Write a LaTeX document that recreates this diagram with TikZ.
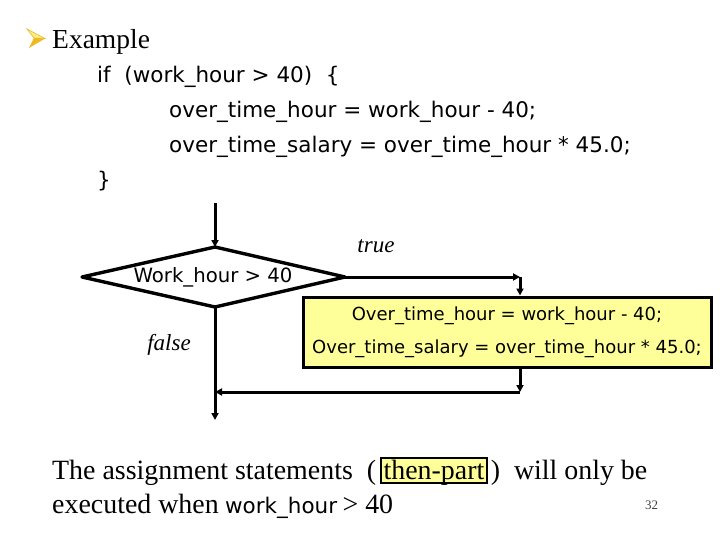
\documentclass[tikz,border=0pt]{standalone}
\usepackage{fontspec}
\setmainfont{Liberation Serif}
\newfontfamily\tah{DejaVu Sans}
\usetikzlibrary{arrows.meta}
\definecolor{boxyellow}{RGB}{255,255,153}
\definecolor{deepgold}{RGB}{238,186,30}
\definecolor{palegold}{RGB}{255,236,140}
\begin{document}
\begin{tikzpicture}[x=1pt,y=-1pt,
  line/.style={line width=3pt},
  arr/.style={-{Triangle[length=7pt,width=7pt]}},
  code/.style={anchor=base west, inner sep=0pt, font=\tah\fontsize{21.5}{25}\selectfont},
  serif/.style={anchor=base west, inner sep=0pt, font=\fontsize{27.9}{32}\selectfont},
  lab/.style={anchor=base, inner sep=0pt, font=\itshape\fontsize{23}{27}\selectfont},
  stmt/.style={draw, line width=3pt, fill=boxyellow, minimum width=408pt, minimum height=70pt,
    inner sep=0pt, align=center, font=\tah\fontsize{18}{33}\selectfont},
  hl/.style={draw, line width=1.6pt, fill=boxyellow, inner xsep=2.5pt, inner ysep=0pt,
    text height=21pt, text depth=4pt, anchor=base west, font=\fontsize{27.9}{32}\selectfont}
]
\useasboundingbox (0,0) rectangle (720,540);

% bullet
\fill[palegold, draw=deepgold, line width=0.6pt] (27,29) -- (45,38.5) -- (34,38) -- cycle;
\fill[deepgold] (34,38) -- (45,38.5) -- (29,48) -- cycle;
\node[serif, font=\fontsize{27.5}{32}\selectfont] (ex) at (52,49) {Example};

% code
\node[code] (c1) at (97,83) {if\ \ (work\_hour > 40)\ \ \{};
\node[code] (c2) at (169,118) {over\_time\_hour = work\_hour - 40;};
\node[code] (c3) at (169,153) {over\_time\_salary = over\_time\_hour * 45.0;};
\node[code] (c4) at (97,188) {\}};

% flowchart
\coordinate (in) at (215,203);
\coordinate (dt) at (215,247);
\coordinate (dr) at (345,277);
\coordinate (db) at (215,307);
\coordinate (dl) at (82,277);
\draw[line width=3.4pt, line join=round] (dt) -- (dr) -- (db) -- (dl) -- cycle;
\node[anchor=base, inner sep=0pt, font=\tah\fontsize{19.7}{24}\selectfont] (cond) at (213,282) {Work\_hour > 40};
\draw[line, arr] (in) -- (dt);

\node[stmt] (box) at (507,332) {Over\_time\_hour = work\_hour - 40;\\Over\_time\_salary = over\_time\_hour * 45.0;};

\coordinate (tc) at (520,277);
\draw[line, arr] (dr) -- (tc);
\draw[line, arr] (tc) -- (box.north -| tc);
\coordinate (bc) at (520,392);
\draw[line, arr] (box.south -| bc) -- (bc);
\draw[line, arr] (bc) -- (db |- bc);
\coordinate (out) at (215,420);
\draw[line, arr] (db) -- (out);

\node[lab] (ltrue) at (376,252) {true};
\node[lab] (lfalse) at (169,350) {false};

% bottom text
\node[serif] (b1) at (52,479) {The assignment statements\ \ (};
\node[hl] (tp) at ([xshift=4pt]b1.base east) {then-part};
\node[serif] (b1r) at ([xshift=3pt]tp.base east) {)\ \ will only be};
\node[serif] (b2) at (52,513) {executed when};
\node[code] (wh) at ([xshift=6pt]b2.base east) {work\_hour};
\node[serif] (b2r) at ([xshift=5pt]wh.base east) {> 40};
\node[anchor=base west, inner sep=0pt, font=\fontsize{13}{15}\selectfont, text=black!75] (pg) at (645,509) {32};
\end{tikzpicture}
\end{document}
